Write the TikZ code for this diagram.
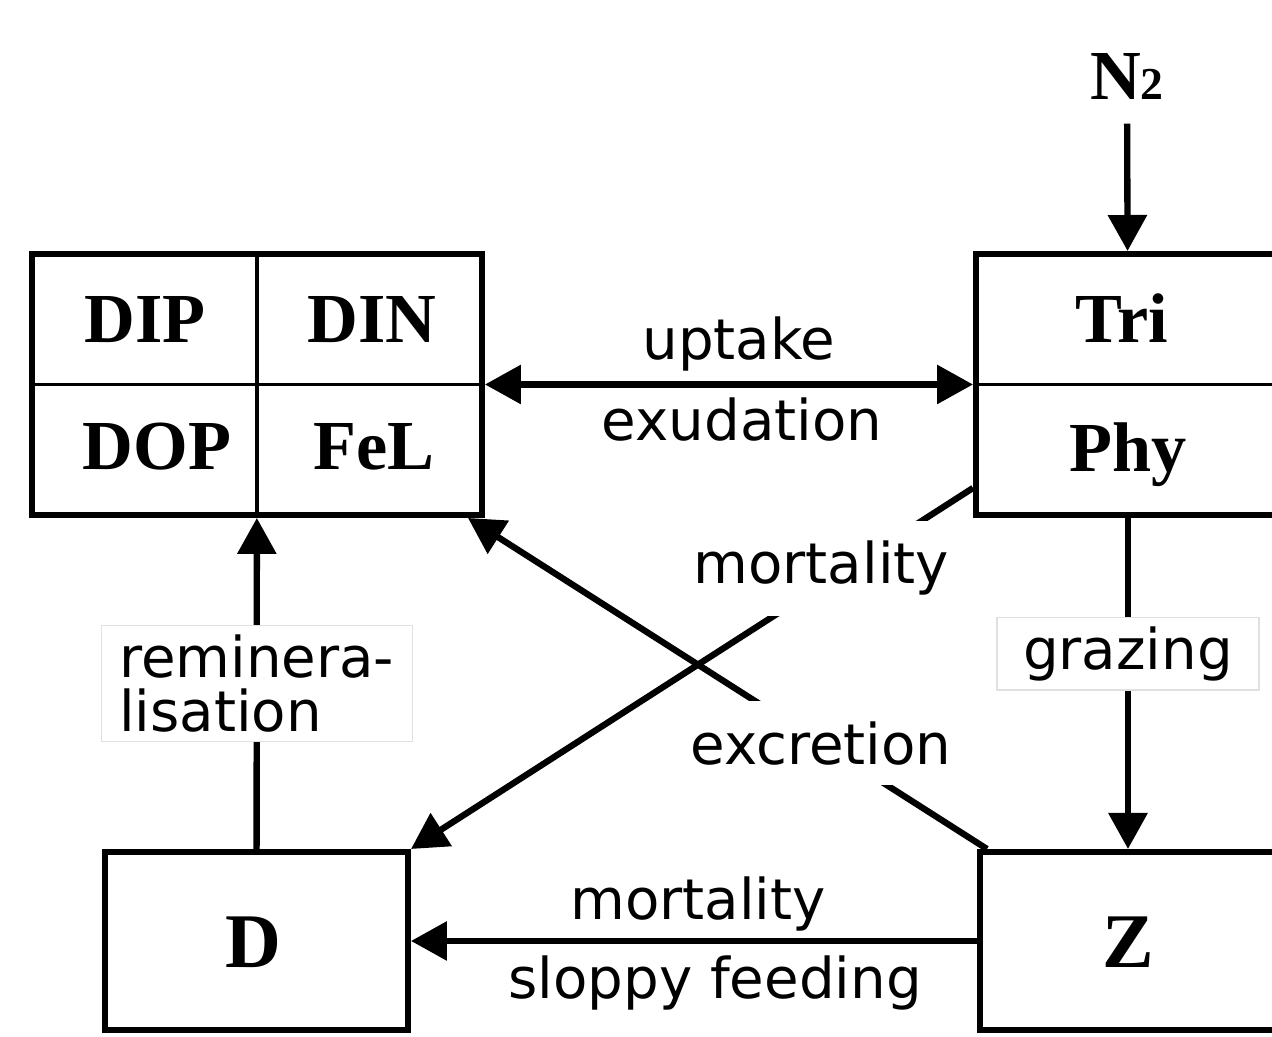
\documentclass[tikz,border=0pt]{standalone}
\usepackage{fontspec}
\setmainfont{Liberation Serif}
\newfontfamily\flowfont{DejaVu Sans}
\usetikzlibrary{arrows.meta}
\tikzstyle{pool} = [rectangle, draw, line width=1.7pt, inner sep=0pt]
\tikzstyle{poolname} = [anchor=base, font=\bfseries\fontsize{20}{24}\selectfont]
\tikzstyle{bigname} = [anchor=base, font=\bfseries\fontsize{22}{26}\selectfont]
\tikzstyle{divider} = [draw, line width=1pt]
\tikzstyle{line} = [draw, line width=1.8pt, -{Triangle[length=3.6mm,width=3.8mm]}]
\tikzstyle{twoway} = [line, {Triangle[length=3.6mm,width=3.8mm]}-{Triangle[length=3.6mm,width=3.8mm]}]
\tikzstyle{flow} = [font=\flowfont\fontsize{16}{15.5}\selectfont, inner sep=0.1cm]
\tikzstyle{flowbox} = [flow, fill=white, draw=black!12, line width=0.4pt]
\tikzstyle{flowgap} = [flow, fill=white, inner sep=0.2cm]

\begin{document}
\begin{tikzpicture}
	\path [use as bounding box, clip] (0,0) rectangle (12.72,10.37);
	% Place nodes
	\node [pool, minimum width=4.5cm, minimum height=2.61cm] (nut) at (2.57,6.525) {};
	\node [pool, minimum width=3.04cm, minimum height=2.61cm] (phy) at (11.28,6.525) {};
	\node [pool, minimum width=3.03cm, minimum height=1.78cm] (det) at (2.565,0.96) {};
	\node [pool, minimum width=2.96cm, minimum height=1.78cm] (zoo) at (11.28,0.96) {};
	\node [poolname, inner sep=0.23cm] (n2) at (11.27,9.37) {N{\fontsize{13}{13}\selectfont 2}};
	
	% Split pools
	\path [divider] (nut.north) -- (nut.south);
	\path [divider] (nut.west) -- (nut.east);
	\path [divider] (phy.west) -- (phy.east);
	
	% Pool names
	\node [poolname] (dip) at (1.45,6.94) {DIP};
	\node [poolname] (din) at (3.72,6.94) {DIN};
	\node [poolname] (dop) at (1.57,5.67) {DOP};
	\node [poolname] (fel) at (3.74,5.67) {FeL};
	\node [poolname] (tri) at (11.22,6.94) {Tri};
	\node [poolname] (phyname) at (11.28,5.65) {Phy};
	\node [bigname] (d) at (2.53,0.69) {D};
	\node [bigname] (z) at (11.28,0.69) {Z};
	
	% Draw edges
	\path [line] (n2) -- (phy);
	\path [twoway] (nut) -- node [flow, above, xshift=0.1cm] (uptake) {uptake}
		node [flow, below, xshift=0.13cm] (exud) {exudation} (phy);
	\path [line] (phy) -- node [flowbox, pos=0.41, inner xsep=0.26cm, inner ysep=0.09cm] (grazing) {grazing} (zoo);
	\path [line] (det) -- node [flowbox, align=left, inner xsep=0.18cm, inner ysep=0.09cm] (remin) {reminera-\\lisation} (nut);
	\path [line] ([yshift=0.3cm]phy.south west) -- node [flowgap, pos=0.27, yshift=0.17cm] (mort) {mortality} (det.north east);
	\path [line] ([xshift=0.1cm]zoo.north west) -- node [flowgap, pos=0.32] (excr) {excretion} ([xshift=-0.17cm]nut.south east);
	\path [line] (zoo) -- node [flow, above, xshift=0.04cm, inner sep=0.07cm] (mort2) {mortality}
		node [flow, below, xshift=0.21cm, inner sep=0.12cm] (sloppy) {sloppy feeding} (det);
	
\end{tikzpicture}
\end{document}
